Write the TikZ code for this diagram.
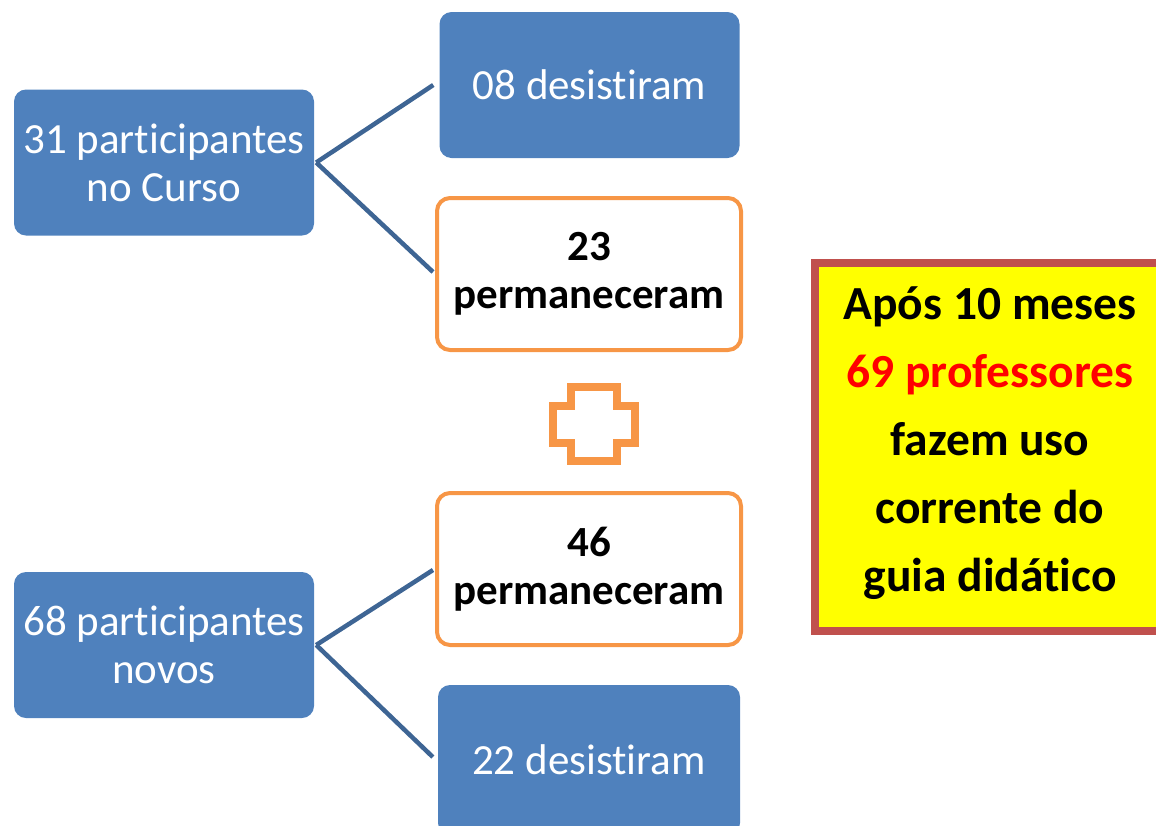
\documentclass[tikz,border=0pt]{standalone}
\usepackage{fontspec}
\setmainfont{Carlito}[Ligatures={NoCommon}]
\definecolor{boxblue}{HTML}{4F81BD}
\definecolor{lineblue}{HTML}{3E6594}
\definecolor{boxorange}{HTML}{F79646}
\definecolor{boxred}{HTML}{C0504D}
\definecolor{boxyellow}{HTML}{FFFF00}
\definecolor{txtred}{HTML}{FF0000}
\tikzset{
  bluebox/.style={rectangle, rounded corners=12pt, fill=boxblue, draw=none, text=white,
    minimum width=300pt, minimum height=146pt, align=center, inner sep=0pt,
    font=\fontsize{43}{48}\selectfont},
  orangebox/.style={rectangle, rounded corners=13pt, fill=white, draw=boxorange, line width=4pt,
    minimum width=304pt, minimum height=152pt, align=center, inner sep=0pt,
    font=\bfseries\fontsize{43}{48}\selectfont},
  resultbox/.style={rectangle, fill=boxyellow, draw=boxred, line width=8pt,
    minimum width=347pt, minimum height=368pt, inner sep=0pt},
  resulttext/.style={align=center, inner sep=0pt, font=\bfseries\fontsize{47.5}{68}\selectfont},
  conn/.style={draw=lineblue, line width=4.5pt},
  plussign/.style={draw=boxorange, line width=8pt, fill=white}
}
\begin{document}
\begin{tikzpicture}[x=1pt,y=-1pt]
\useasboundingbox (0,0) rectangle (1156,825);
% boxes
\node[bluebox] (a31) at (164,162.5) {31 participantes\\no Curso};
\node[bluebox] (d08) at (589.5,85) {08 desistiram};
\node[orangebox] (p23) at (589,274) {23\\permaneceram};
\node[orangebox] (p46) at (589,569) {46\\permaneceram};
\node[bluebox] (a68) at (164,645) {68 participantes\\novos};
\node[bluebox, minimum width=302pt, minimum height=150pt] (d22) at (589,760) {22 desistiram};
% result box
\node[resultbox] (res) at (988.5,447) {};
\node[resulttext] (restext) at (990,443) {Após 10 meses\\\textcolor{txtred}{69 professores}\\fazem uso\\corrente do\\guia didático};
% plus sign
\draw[plussign] (571,387) -- (617,387) -- (617,406) -- (635,406) -- (635,443) -- (617,443)
  -- (617,461) -- (571,461) -- (571,443) -- (553,443) -- (553,406) -- (571,406) -- cycle;
% connectors
\draw[conn] ([xshift=2pt]a31.east) -- ([xshift=-6pt]d08.west);
\draw[conn] ([xshift=2pt]a31.east) -- ([xshift=-2pt,yshift=2pt]p23.west);
\draw[conn] ([xshift=2pt]a68.east) -- ([xshift=-2pt,yshift=-1pt]p46.west);
\draw[conn] ([xshift=2pt]a68.east) -- ([xshift=-5pt,yshift=3pt]d22.west);
\end{tikzpicture}
\end{document}
